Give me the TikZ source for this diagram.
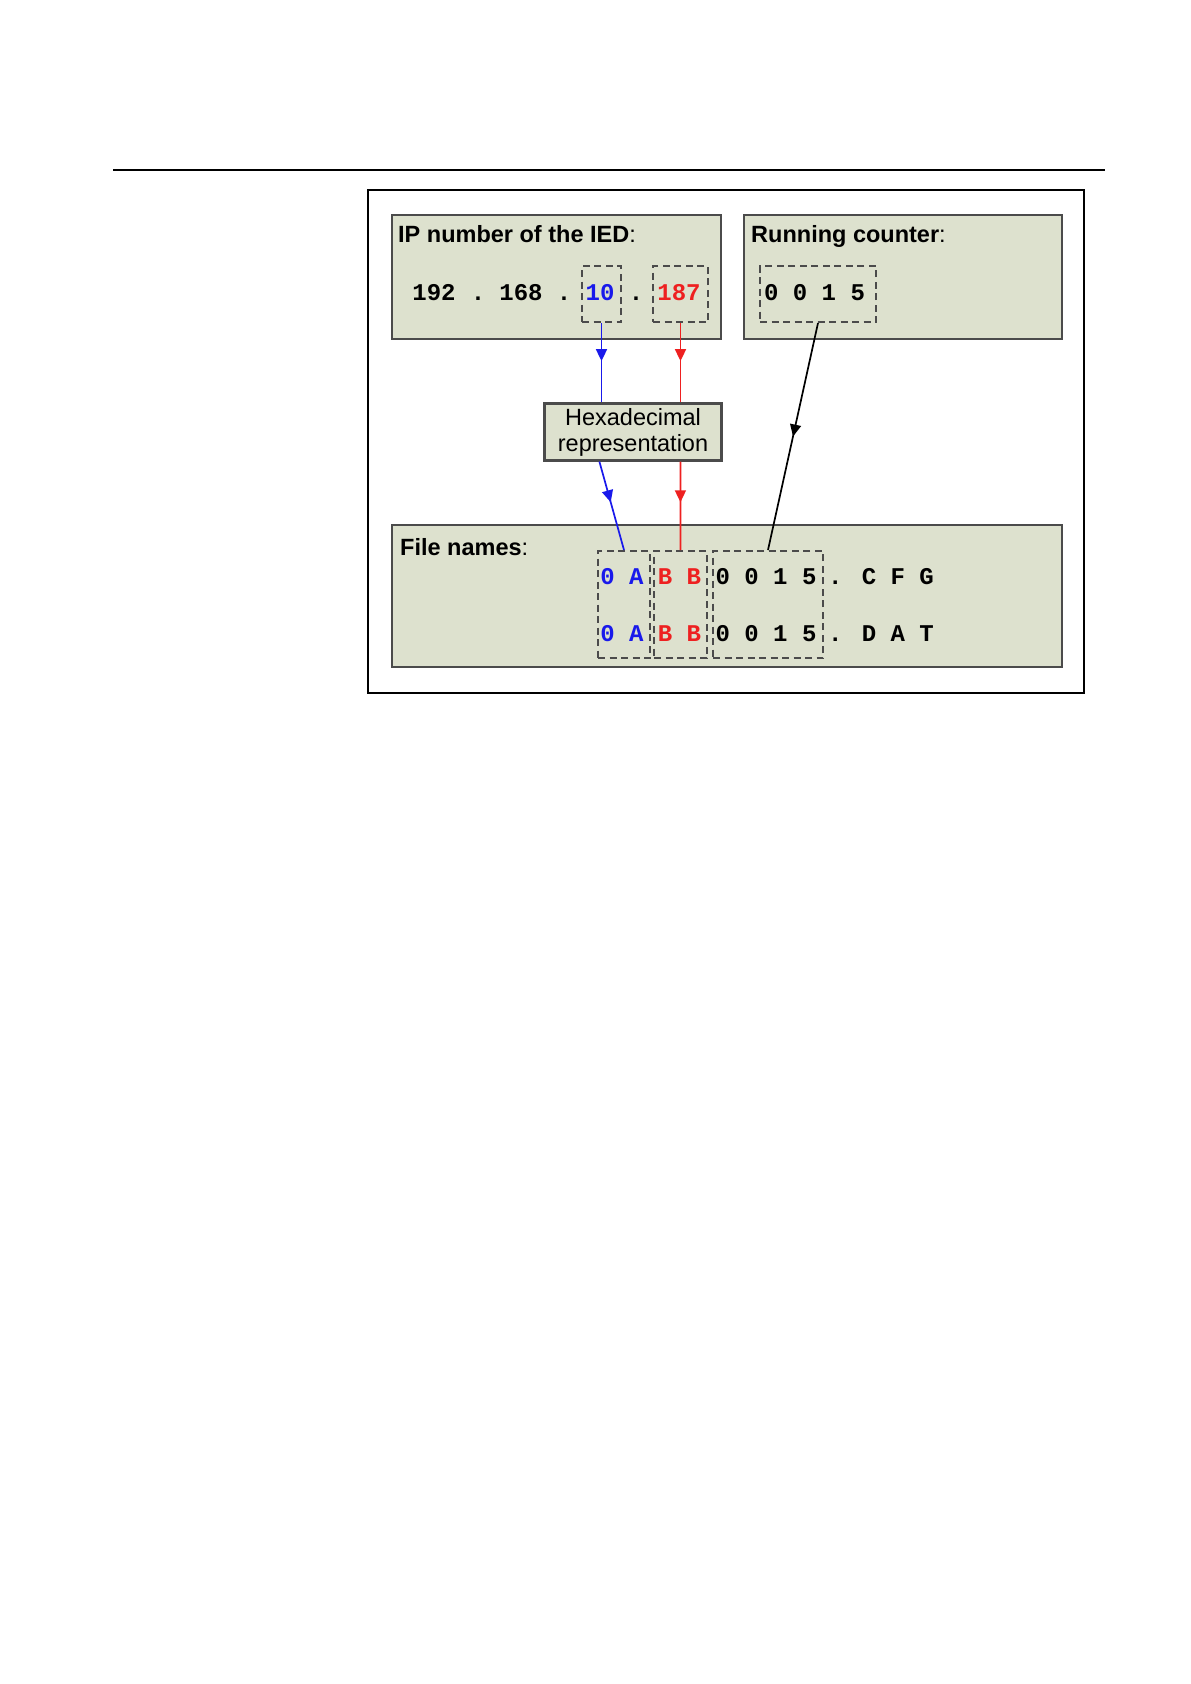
\documentclass[tikz,border=0pt]{standalone}
\usepackage{fontspec}
\setmainfont{Liberation Sans}
\newfontfamily\monofont{Liberation Mono}
\usetikzlibrary{arrows.meta,decorations.markings,calc}
\definecolor{boxfill}{RGB}{221,225,206}
\definecolor{boxline}{RGB}{75,75,75}
\definecolor{hexblue}{RGB}{25,25,235}
\definecolor{hexred}{RGB}{238,32,32}
\begin{document}
\begin{tikzpicture}[x=1pt,y=-1pt,
  panel/.style={draw=boxline,fill=boxfill,line width=2.2pt,rectangle,inner sep=0,anchor=north west},
  dbox/.style={draw=boxline,dash pattern=on 7pt off 4.5pt,line width=2pt,rectangle,inner sep=0,anchor=north west},
  title/.style={anchor=base west,inner sep=0,font=\fontsize{23.5}{28}\selectfont},
  mono/.style={anchor=base,inner sep=0,font=\fontsize{24}{28}\monofont\bfseries},
  link/.style={line width=1.7pt,postaction={decorate},
    decoration={markings,mark=at position #1 with {\arrow{Triangle[width=11pt,length=12pt]}}}},
]
\useasboundingbox (0,0) rectangle (1191,1684);
\fill[white] (0,0) rectangle (1191,1684);
% top rule and outer frame
\draw[line width=1.8pt] (113,170) -- (1105,170);
\draw[line width=1.5pt] (368,190) rectangle (1084,693);

% panels
\node[panel,minimum width=329pt,minimum height=124pt] (ip) at (391,214) {};
\node[panel,minimum width=318pt,minimum height=124pt] (rc) at (743,214) {};
\node[panel,minimum width=670pt,minimum height=142pt] (fn) at (391,524) {};
\node[panel,minimum width=177pt,minimum height=57pt,anchor=center,
      align=center,font=\fontsize{23.5}{27}\selectfont] (hex) at (633,432)
      {Hexadecimal\\[-1pt]representation};

% titles
\node[title] (iptitle) at (398,242) {\textbf{IP number of the IED}:};
\node[title] (rctitle) at (751,242) {\textbf{Running counter}:};
\node[title] (fntitle) at (400,555) {\textbf{File names}:};

% IP number
\node[mono] (ipa) at (434,300) {192};
\node[mono] (dota) at (478,300) {.};
\node[mono] (ipb) at (521,300) {168};
\node[mono] (dotb) at (564,300) {.};
\node[mono,text=hexblue] (ipc) at (600,300) {10};
\node[mono] (dotc) at (636,300) {.};
\node[mono,text=hexred] (ipd) at (679,300) {187};
\node[dbox,minimum width=39pt,minimum height=56pt] (d10) at (581,265) {};
\node[dbox,minimum width=55pt,minimum height=56pt] (d187) at (652,265) {};

% running counter
\node[mono] (cnt) at (814.5,300) {0 0 1 5};
\node[dbox,minimum width=116pt,minimum height=56pt] (drc) at (759,265) {};

% file names
\node[mono,text=hexblue] (fa1) at (622,584) {0 A};
\node[mono,text=hexred] (fb1) at (679.5,584) {B B};
\node[mono] (fc1) at (766,584) {0 0 1 5};
\node[mono] (fd1) at (881,584) {. C F G};
\node[mono,text=hexblue] (fa2) at (622,641) {0 A};
\node[mono,text=hexred] (fb2) at (679.5,641) {B B};
\node[mono] (fc2) at (766,641) {0 0 1 5};
\node[mono] (fd2) at (881,641) {. D A T};
\node[dbox,minimum width=52pt,minimum height=107pt] (f1) at (597,550) {};
\node[dbox,minimum width=53pt,minimum height=107pt] (f2) at (653,550) {};
\node[dbox,minimum width=110pt,minimum height=107pt] (f3) at (712,550) {};

% connectors
\draw[link=0.48,draw=hexblue,fill=hexblue] (d10.south) -- (d10.south |- hex.north);
\draw[link=0.48,draw=hexred,fill=hexred] (d187.south) -- (d187.south |- hex.north);
\draw[link=0.46,draw=hexblue,fill=hexblue] ($(hex.south west)+(56,0)$) -- (f1.north);
\draw[link=0.46,draw=hexred,fill=hexred] ($(hex.south west)+(137,0)$) -- (f2.north);
\draw[link=0.50,draw=black,fill=black] (drc.south) -- (f3.north);
\end{tikzpicture}
\end{document}
